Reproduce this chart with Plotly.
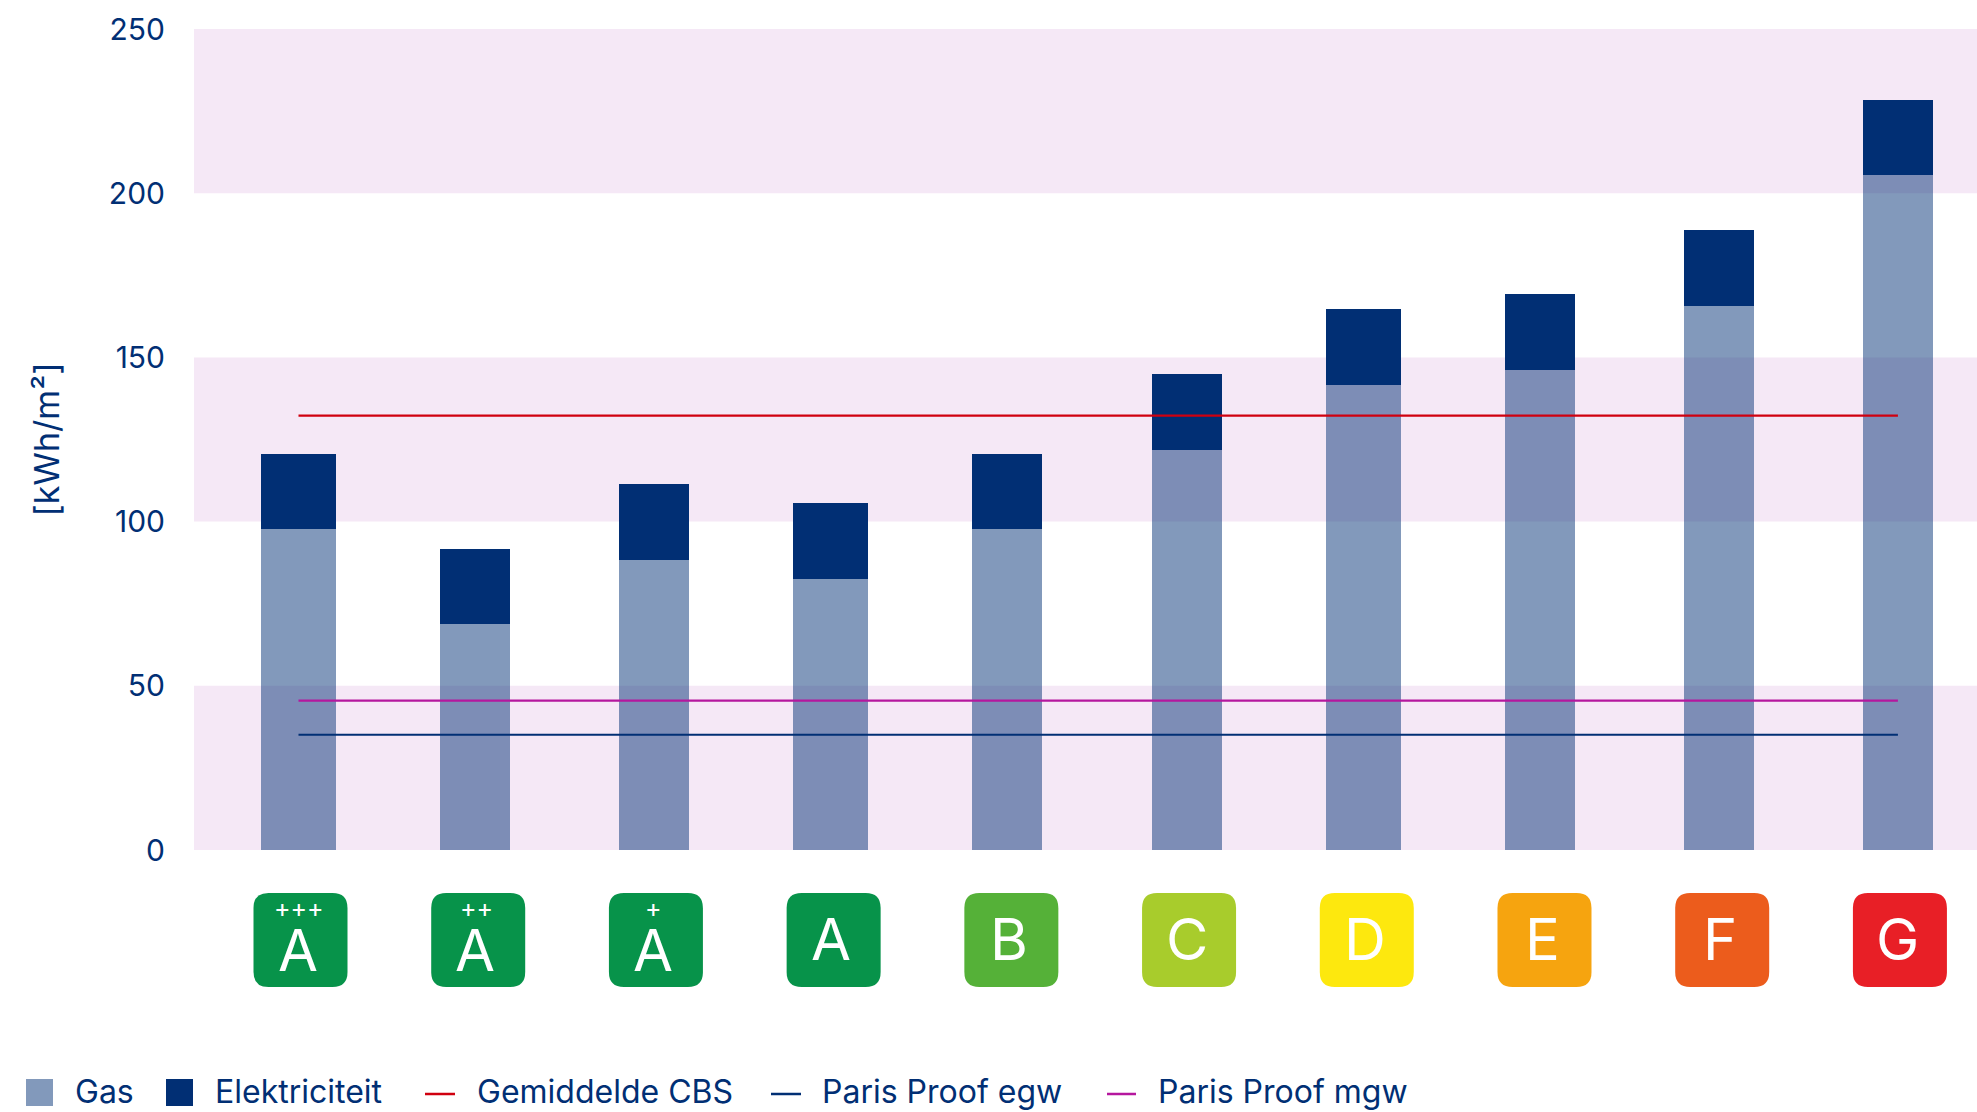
import plotly.graph_objects as go

categories = ["A+++", "A++", "A+", "A", "B", "C", "D", "E", "F", "G"]
letters = ["A", "A", "A", "A", "B", "C", "D", "E", "F", "G"]
pluses = ["+++", "++", "+", "", "", "", "", "", "", ""]
gas = [97.7, 68.7, 88.3, 82.5, 97.7, 121.9, 141.7, 146.3, 165.8, 205.5]
elektriciteit = [22.8, 23.0, 23.0, 23.1, 22.8, 23.0, 23.0, 23.0, 23.1, 23.0]
gemiddelde_cbs = [132.3] * 10
paris_egw = [35.1] * 10
paris_mgw = [45.5] * 10
bar_widths = [0.422, 0.394, 0.394, 0.422, 0.394, 0.394, 0.422, 0.394, 0.394, 0.394]
bar_nudges = [0, -0.007, 0, -0.007, -0.011, 0, -0.006, -0.014, -0.006, 0]
badge_colors = ["#07934A", "#07934A", "#07934A", "#07934A", "#55B138",
                "#A8CC2C", "#FDE80E", "#F6A40F", "#EC5C1C", "#E81F26"]
y_ticks = [0, 50, 100, 150, 200, 250]
bands = [(0, 50), (100, 150), (200, 250)]
legend_labels = ["Gas", "Elektriciteit", "Gemiddelde CBS", "Paris Proof egw", "Paris Proof mgw"]

NAVY = "#012F74"
GAS = "rgba(1,47,116,0.49)"
RED = "#D0000F"
PURPLE = "#B5179E"
FONT = "Inter"

L, T, B, W, H = 194, 29, 262, 1977, 1112
PW, PH = W - L, H - T - B


def px(x):
    return (x - L) / PW


def py(y):
    return (H - B - y) / PH


def badge_path(cx, top, bottom, half=47, r=15):
    l, rr = cx - half, cx + half
    return (f"M{l + r},{top} L{rr - r},{top} Q{rr},{top} {rr},{top - r} "
            f"L{rr},{bottom + r} Q{rr},{bottom} {rr - r},{bottom} "
            f"L{l + r},{bottom} Q{l},{bottom} {l},{bottom + r} "
            f"L{l},{top - r} Q{l},{top} {l + r},{top} Z")


bar_offsets = [-w / 2 + n for w, n in zip(bar_widths, bar_nudges)]

fig = go.Figure()
fig.add_bar(x=categories, y=gas, name=legend_labels[0], width=bar_widths, offset=bar_offsets,
            marker=dict(color=GAS, line_width=0))
fig.add_bar(x=categories, y=elektriciteit, name=legend_labels[1], width=bar_widths,
            offset=bar_offsets, marker=dict(color=NAVY, line_width=0))
fig.add_scatter(x=categories, y=gemiddelde_cbs, name=legend_labels[2], mode="lines",
                line=dict(color=RED, width=2.2))
fig.add_scatter(x=categories, y=paris_egw, name=legend_labels[3], mode="lines",
                line=dict(color=NAVY, width=2.2))
fig.add_scatter(x=categories, y=paris_mgw, name=legend_labels[4], mode="lines",
                line=dict(color=PURPLE, width=2.2))

for lo, hi in bands:
    fig.add_shape(type="rect", xref="paper", x0=0, x1=1, yref="y", y0=lo, y1=hi,
                  fillcolor="#F5E8F6", line_width=0, layer="below")

for i, cat in enumerate(categories):
    fig.add_shape(type="path", xref="x", yref="paper", xsizemode="pixel", ysizemode="pixel",
                  xanchor=cat, yanchor=0, path=badge_path(2, -43, -137),
                  fillcolor=badge_colors[i], line_width=0, layer="above")
    fig.add_annotation(x=cat, xref="x", y=0, yref="paper",
                       xshift=-1 if letters[i] == "A" else 0,
                       yshift=-(100 if pluses[i] else 89), text=letters[i], showarrow=False,
                       font=dict(family=FONT, size=58, color="white"), yanchor="middle",
                       height=46, valign="middle")
    if pluses[i]:
        fig.add_annotation(x=cat, xref="x", y=0, yref="paper", xshift=0, yshift=-58,
                           text=pluses[i], showarrow=False, height=20,
                           font=dict(family=FONT, size=25, color="white"), yanchor="middle")

# legend keys and labels
swatch_spans = [(26, 53, GAS), (166, 193, NAVY)]
for x0, x1, color in swatch_spans:
    fig.add_shape(type="rect", xref="paper", yref="paper", x0=px(x0), x1=px(x1),
                  y0=py(1106), y1=py(1079), fillcolor=color, line_width=0)
line_spans = [(425, 455, RED), (771, 801, NAVY), (1107, 1136, PURPLE)]
for x0, x1, color in line_spans:
    fig.add_shape(type="line", xref="paper", yref="paper", x0=px(x0), x1=px(x1),
                  y0=py(1094), y1=py(1094), line=dict(color=color, width=2.5))
label_starts = [73, 213, 475, 820, 1156]
for label, x0 in zip(legend_labels, label_starts):
    fig.add_annotation(xref="paper", yref="paper", x=px(x0), y=py(1091.5), text=label,
                       showarrow=False, xanchor="left", yanchor="middle",
                       font=dict(family=FONT, size=32, color=NAVY))

fig.update_layout(
    width=W, height=H, autosize=False,
    margin=dict(l=L, r=0, t=T, b=B, pad=0),
    paper_bgcolor="white", plot_bgcolor="white",
    barmode="stack", showlegend=False,
    font=dict(family=FONT, size=30, color=NAVY),
    xaxis=dict(type="category", categoryorder="array", categoryarray=categories,
               range=[-0.588, 9.445], showticklabels=False, showgrid=False,
               zeroline=False, ticks="", showline=False),
    yaxis=dict(range=[0, 250], tickvals=y_ticks, showgrid=False, zeroline=False,
               showline=False, ticks="", ticklabelstandoff=28,
               tickfont=dict(family=FONT, size=30, color=NAVY),
               title=dict(text="[kWh/m²]", standoff=38,
                          font=dict(family=FONT, size=34, color=NAVY))),
)

fig.write_html("out.html", config=dict(displayModeBar=False),
               post_script="document.body.style.margin='0';")
